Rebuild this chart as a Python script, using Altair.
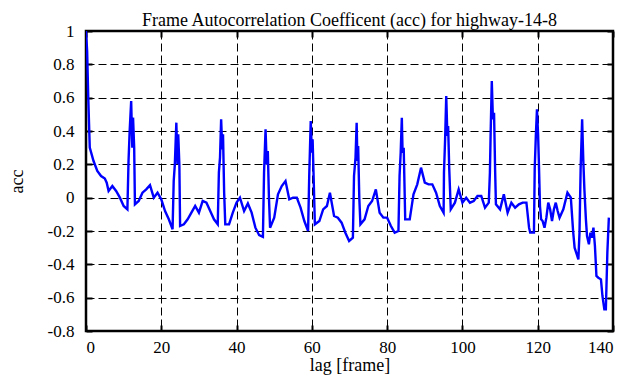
import altair as alt
import pandas as pd

# lag [frame]
lag = [0, 0.3, 0.6, 1, 2, 3, 4, 5, 5.5, 6, 7, 8, 9, 10, 11,
       11.3, 11.6, 12, 12.3, 12.5, 12.8, 13, 14, 15, 16, 17, 18, 19, 20, 21, 22, 23,
       23.3, 23.6, 24, 24.3, 24.5, 24.8, 25, 26, 27, 28, 29, 30, 31, 32, 33, 34, 35,
       35.3, 35.6, 35.9, 36.2, 36.4, 36.7, 37, 38, 39, 40, 40.9, 42, 43, 44, 45, 46, 47,
       47.3, 47.7, 48.0, 48.3, 48.6, 48.9, 50, 51, 52, 53, 54, 55, 56, 57, 58, 59,
       59.3, 59.7, 60.0, 60.2, 60.5, 60.8, 62, 63, 64, 64.8, 65.9, 66.9, 67.9, 68.9, 69.9, 70.9,
       71.2, 71.6, 71.9, 72.1, 72.3, 72.6, 72.9, 74, 75, 76, 77, 78, 79, 80, 81, 82, 83,
       83.3, 83.6, 83.9, 84.1, 84.4, 84.8, 86, 87, 88, 89, 90, 91, 92, 93, 94, 95,
       95.1, 95.4, 95.7, 96.0, 96.2, 96.5, 96.9, 98, 99, 100, 101, 102, 103, 104, 105, 106, 107,
       107.3, 107.5, 107.8, 108.1, 108.4, 108.7, 108.9, 110, 111, 112, 113, 114, 115, 116, 117,
       117.7, 118, 119, 119.2, 119.5, 119.8, 120.1, 120.3, 120.6, 120.9,
       121.3, 121.8, 122.3, 122.8, 123.3, 123.8, 124.3, 124.8, 125.3, 125.8, 126.8, 127.9,
       128.8, 129.4, 129.8, 130.8, 131.1, 131.4, 131.8, 132.1, 132.4, 132.8, 133.1, 133.6,
       134.0, 134.4, 134.8, 135.2, 135.6, 136.1, 136.8, 137.2, 137.7, 138.1, 138.5, 138.9]

# autocorrelation coefficient
acc = [1.0, 0.88, 0.6, 0.30, 0.22, 0.16, 0.13, 0.115, 0.09, 0.04, 0.07, 0.04, 0.0, -0.05, -0.07,
       0.22, 0.40, 0.58, 0.30, 0.48, 0.30, -0.04, -0.02, 0.03, 0.05, 0.075, 0.0, 0.03, -0.01, -0.08, -0.13, -0.19,
       0.1, 0.2, 0.45, 0.2, 0.38, 0.2, -0.17, -0.16, -0.13, -0.09, -0.05, -0.09, -0.02, -0.03, -0.08, -0.13, -0.16,
       0.15, 0.24, 0.47, 0.29, 0.38, 0.03, -0.16, -0.16, -0.09, -0.03, 0.0, -0.08, -0.035, -0.09, -0.18, -0.225, -0.235,
       0.15, 0.41, 0.2, 0.28, 0.0, -0.18, -0.12, 0.02, 0.07, 0.10, -0.01, 0.0, 0.0, -0.06, -0.14, -0.2,
       0.13, 0.46, 0.27, 0.35, 0.1, -0.16, -0.14, -0.07, -0.05, 0.03, -0.11, -0.12, -0.15, -0.21, -0.26, -0.24,
       0.13, 0.24, 0.45, 0.22, 0.31, 0.0, -0.16, -0.13, -0.05, -0.02, 0.05, -0.09, -0.12, -0.12, -0.17, -0.21, -0.2,
       0.13, 0.27, 0.48, 0.27, 0.3, -0.13, -0.13, 0.02, 0.08, 0.18, 0.09, 0.08, 0.08, 0.03, -0.05, -0.09,
       0.15, 0.35, 0.61, 0.37, 0.43, 0.17, -0.07, -0.03, 0.05, -0.03, 0.0, -0.03, -0.02, 0.01, 0.01, -0.06, -0.03,
       0.15, 0.39, 0.70, 0.47, 0.51, 0.15, -0.04, -0.07, 0.02, -0.09, -0.03, -0.06, -0.04, -0.03, -0.03,
       -0.18, -0.21, -0.21, 0.17, 0.37, 0.53, 0.38, 0.22, -0.05, -0.13,
       -0.14, -0.18, -0.12, -0.03, -0.07, -0.14, -0.07, -0.03, -0.08, -0.12, -0.07, 0.03,
       0.0, -0.2, -0.3, -0.37, -0.21, 0.17, 0.47, 0.23, 0.05, -0.13, -0.23, -0.28,
       -0.21, -0.24, -0.18, -0.29, -0.47, -0.48, -0.49, -0.59, -0.67, -0.67, -0.33, -0.12]

x_ticks = [0, 20, 40, 60, 80, 100, 120, 140]
y_ticks = [-0.8, -0.6, -0.4, -0.2, 0, 0.2, 0.4, 0.6, 0.8, 1]

df = pd.DataFrame({"lag": lag, "acc": acc})

FONT = "Liberation Serif"
label_expr = "replace(format(datum.value, '.2~f'), '\u2212', '-')"

xscale = alt.Scale(domain=[0, 140], nice=False)
yscale = alt.Scale(domain=[-0.8, 1], nice=False)

main = alt.Chart(df).mark_line(color="#0000FF", strokeWidth=2.4, clip=True).encode(
    x=alt.X("lag:Q", scale=xscale, title="lag [frame]",
            axis=alt.Axis(orient="bottom", values=x_ticks, offset=-6, tickSize=6,
                          tickWidth=2, tickColor="black", domain=False,
                          grid=True, gridColor="black", gridDash=[8, 4], gridWidth=1,
                          gridOpacity=1, labelPadding=8, labelFont=FONT, labelFontSize=17,
                          labelColor="black", labelExpr=label_expr,
                          titleFont=FONT, titleFontSize=18, titleFontWeight="normal",
                          titleColor="black", titlePadding=1)),
    y=alt.Y("acc:Q", scale=yscale, title="acc",
            axis=alt.Axis(orient="left", values=y_ticks, offset=-6, tickSize=6,
                          tickWidth=2, tickColor="black", domain=False,
                          grid=True, gridColor="black", gridDash=[8, 4], gridWidth=1,
                          gridOpacity=1, labelPadding=12, labelFont=FONT, labelFontSize=17,
                          labelColor="black", labelExpr=label_expr,
                          titleFont=FONT, titleFontSize=18, titleFontWeight="normal",
                          titleColor="black", titlePadding=21)),
)

mirror = alt.Chart(df).mark_line(strokeOpacity=0).encode(
    x=alt.X("lag:Q", scale=xscale, title=None,
            axis=alt.Axis(orient="top", values=x_ticks, offset=-6, tickSize=6,
                          tickWidth=2, tickColor="black", domain=False, grid=False,
                          labels=False)),
    y=alt.Y("acc:Q", scale=yscale, title=None,
            axis=alt.Axis(orient="right", values=y_ticks, offset=-6, tickSize=6,
                          tickWidth=2, tickColor="black", domain=False, grid=False,
                          labels=False)),
)

chart = alt.layer(main, mirror).resolve_axis(x="independent", y="independent").properties(
    width=527,
    height=300,
    autosize=alt.AutoSizeParams(type="none"),
    padding={"left": 78, "top": 23, "right": 14, "bottom": 47},
    title=alt.TitleParams("Frame Autocorrelation Coefficent (acc) for highway-14-8",
                          font=FONT, fontSize=18, fontWeight="normal", color="black",
                          anchor="middle", baseline="alphabetic", offset=6, dy=28),
).configure(font=FONT).configure_axis(
    labelFont=FONT, titleFont=FONT
).configure_view(stroke="black", strokeWidth=2.5)

chart.save("out.html", embed_options={"renderer": "svg", "actions": False})
